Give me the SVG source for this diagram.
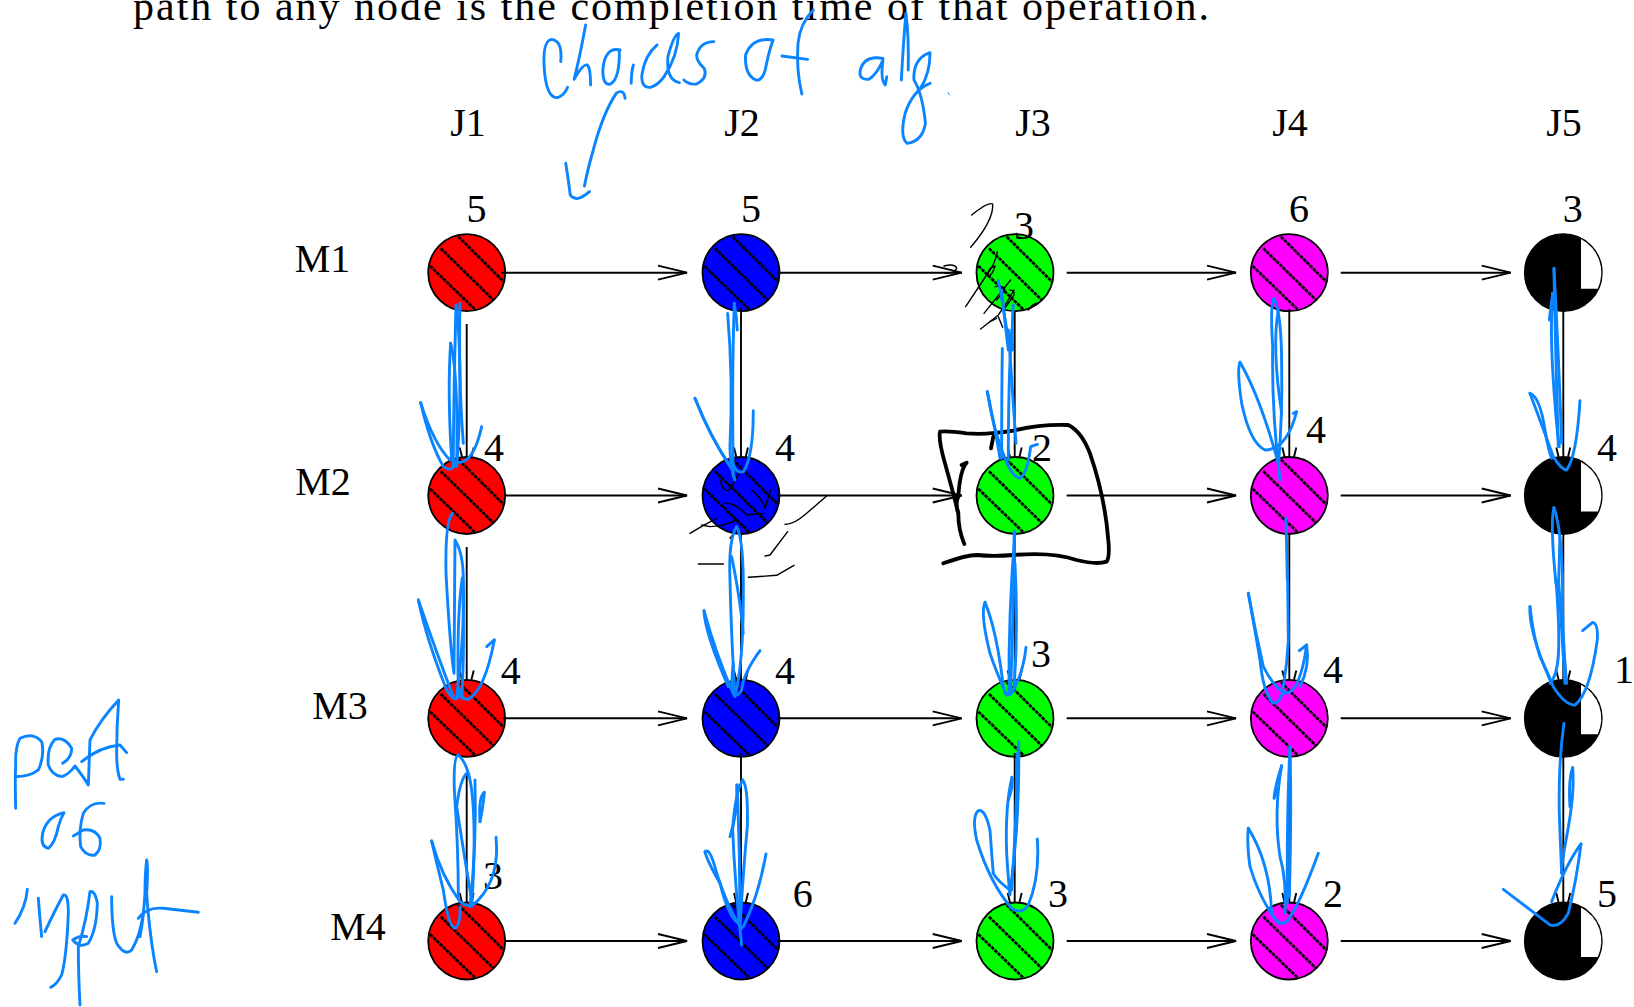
<svg xmlns="http://www.w3.org/2000/svg" width="1634" height="1007" viewBox="0 0 1634 1007">
<style>
text{font-family:"Liberation Serif","Times New Roman",serif;font-size:40px;fill:#000;text-anchor:middle}
.c{stroke:#000;stroke-width:1.8}
.h{stroke:#000;stroke-width:2.7;stroke-dasharray:3.6 .9;fill:none}
.a{stroke:#000;stroke-width:1.9;fill:none;marker-end:url(#head)}
.v{stroke:#000;stroke-width:1.9;fill:none;marker-end:url(#vhead)}
.ink path{fill:none;stroke-linecap:round;stroke-linejoin:round;vector-effect:non-scaling-stroke}
.blue path{stroke:#0a84ff;stroke-width:2.9}
.blk path{stroke:#000;stroke-width:1.4}
.thick path{stroke:#000;stroke-width:3.8}
</style>
<defs>
<marker id="head" markerUnits="userSpaceOnUse" markerWidth="40" markerHeight="20" refX="0" refY="0" viewBox="-32 -10 40 20" orient="auto" overflow="visible"><path d="M-29 -7L0 0L-29 7" fill="none" stroke="#000" stroke-width="1.9"/></marker>
<marker id="vhead" markerUnits="userSpaceOnUse" markerWidth="20" markerHeight="20" refX="0" refY="0" viewBox="-10 -10 20 20" orient="auto" overflow="visible"><path d="M-9.4 -7L0 -4.7M-9.4 7L0 4.7" fill="none" stroke="#000" stroke-width="1.9"/></marker>
<g id="hatch"><path class="h" d="M-8.3 -36L37.3 9.3M-26 -24.3L26.7 27.3M-36.700 -6.700L8.300 36.700"/></g>
<path id="win" d="M17.7 -33.6A38 38 0 0 1 34.5 16H17.7Z" fill="#fff"/>
</defs>
<rect width="1634" height="1007" fill="#fff"/>
<text id="caption" x="133" y="20" textLength="1076" lengthAdjust="spacing" style="text-anchor:start;font-size:42px">path to any node is the completion time of that operation.</text>
<g id="headers">
<text x="468" y="135.7">J1</text><text x="742" y="135.7">J2</text><text x="1033" y="135.7">J3</text><text x="1290" y="135.7">J4</text><text x="1564" y="135.7">J5</text>
<text x="322.500" y="272">M1</text><text x="323" y="495">M2</text><text x="340" y="719">M3</text><text x="358" y="940">M4</text>
</g>
<g id="nodes">
<g id="j1m1"><circle class="c" cx="466.700" cy="272.700" r="38.500" fill="#f00"/><use href="#hatch" x="466.700" y="272.700"/><text x="476.500" y="221.700">5</text></g>
<g id="j2m1"><circle class="c" cx="741" cy="272.700" r="38.500" fill="#00f"/><use href="#hatch" x="741" y="272.700"/><text x="751" y="221.700">5</text></g>
<g id="j3m1"><circle class="c" cx="1015" cy="272.700" r="38.500" fill="#0f0"/><use href="#hatch" x="1015" y="272.700"/><text x="1024" y="239">3</text></g>
<g id="j4m1"><circle class="c" cx="1289.300" cy="272.700" r="38.500" fill="#f0f"/><use href="#hatch" x="1289.300" y="272.700"/><text x="1299" y="221.700">6</text></g>
<g id="j5m1"><circle class="c" cx="1563.300" cy="272.700" r="38.500" fill="#000"/><use href="#win" x="1563.300" y="272.700"/><text x="1572.700" y="221.700">3</text></g>
<g id="j1m2"><circle class="c" cx="466.700" cy="495.500" r="38.500" fill="#f00"/><use href="#hatch" x="466.700" y="495.500"/><text x="494" y="461">4</text></g>
<g id="j2m2"><circle class="c" cx="741" cy="495.500" r="38.500" fill="#00f"/><use href="#hatch" x="741" y="495.500"/><text x="785" y="461">4</text></g>
<g id="j3m2"><circle class="c" cx="1015" cy="495.500" r="38.500" fill="#0f0"/><use href="#hatch" x="1015" y="495.500"/><text x="1042" y="461">2</text></g>
<g id="j4m2"><circle class="c" cx="1289.300" cy="495.500" r="38.500" fill="#f0f"/><use href="#hatch" x="1289.300" y="495.500"/><text x="1316" y="443.300">4</text></g>
<g id="j5m2"><circle class="c" cx="1563.300" cy="495.500" r="38.500" fill="#000"/><use href="#win" x="1563.300" y="495.500"/><text x="1607" y="461">4</text></g>
<g id="j1m3"><circle class="c" cx="466.700" cy="718.300" r="38.500" fill="#f00"/><use href="#hatch" x="466.700" y="718.300"/><text x="510.700" y="684">4</text></g>
<g id="j2m3"><circle class="c" cx="741" cy="718.300" r="38.500" fill="#00f"/><use href="#hatch" x="741" y="718.300"/><text x="785" y="684">4</text></g>
<g id="j3m3"><circle class="c" cx="1015" cy="718.300" r="38.500" fill="#0f0"/><use href="#hatch" x="1015" y="718.300"/><text x="1041" y="667">3</text></g>
<g id="j4m3"><circle class="c" cx="1289.300" cy="718.300" r="38.500" fill="#f0f"/><use href="#hatch" x="1289.300" y="718.300"/><text x="1333" y="683">4</text></g>
<g id="j5m3"><circle class="c" cx="1563.300" cy="718.300" r="38.500" fill="#000"/><use href="#win" x="1563.300" y="718.300"/><text x="1624" y="683">1</text></g>
<g id="j1m4"><circle class="c" cx="466.700" cy="941" r="38.500" fill="#f00"/><use href="#hatch" x="466.700" y="941"/><text x="493" y="889">3</text></g>
<g id="j2m4"><circle class="c" cx="741" cy="941" r="38.500" fill="#00f"/><use href="#hatch" x="741" y="941"/><text x="802.700" y="906.700">6</text></g>
<g id="j3m4"><circle class="c" cx="1015" cy="941" r="38.500" fill="#0f0"/><use href="#hatch" x="1015" y="941"/><text x="1058" y="906.700">3</text></g>
<g id="j4m4"><circle class="c" cx="1289.300" cy="941" r="38.500" fill="#f0f"/><use href="#hatch" x="1289.300" y="941"/><text x="1333" y="906.700">2</text></g>
<g id="j5m4"><circle class="c" cx="1563.300" cy="941" r="38.500" fill="#000"/><use href="#win" x="1563.300" y="941"/><text x="1607" y="906.700">5</text></g>
</g>
<g id="connectors">
<path class="a" d="M501 272.700H687"/><path class="a" d="M777 272.700H961.700"/><path class="a" d="M1066.700 272.700H1236"/><path class="a" d="M1340.700 272.700H1510.700"/>
<path class="a" d="M505 495.500H687"/><path class="a" d="M777 495.500H961.700"/><path class="a" d="M1066.700 495.500H1236"/><path class="a" d="M1340.700 495.500H1510.700"/>
<path class="a" d="M503 718.300H687"/><path class="a" d="M777 718.300H961.700"/><path class="a" d="M1066.700 718.300H1236"/><path class="a" d="M1340.700 718.300H1510.700"/>
<path class="a" d="M505 941H687"/><path class="a" d="M777 941H961.700"/><path class="a" d="M1066.700 941H1236"/><path class="a" d="M1340.700 941H1510.700"/>
<path class="v" d="M466.700 324V457"/><path class="v" d="M741 308V457"/><path class="v" d="M1014.700 312V457"/><path class="v" d="M1289.300 309V457"/><path class="v" d="M1563.300 311V457"/>
<path class="v" d="M466.700 547V679.800"/><path class="v" d="M741 532V679.800"/><path class="v" d="M1014.700 533V679.800"/><path class="v" d="M1289.300 533V679.800"/><path class="v" d="M1563.300 533V679.800"/>
<path class="v" d="M466.700 773V902.500"/><path class="v" d="M741 753V902.500"/><path class="v" d="M1014.700 753V902.500"/><path class="v" d="M1289.300 756V902.500"/><path class="v" d="M1563.300 756V902.500"/>
</g>
<g id="ink-black" class="ink">
<g class="blk" transform="translate(940,190) scale(.3333)">
<path d="M95 75Q145 35 158 42Q162 90 92 172"/><path d="M172 185Q165 220 150 240L77 350"/><path d="M165 228Q140 235 145 260Q160 250 165 228"/><path d="M212 270L132 370"/><path d="M165 290Q190 285 195 300L170 330"/><path d="M222 300Q200 340 175 375L122 417"/><path d="M175 380L188 412"/><path d="M150 395L170 385"/><path d="M210 300Q225 300 222 315Q205 340 190 360"/><path d="M265 360Q280 340 290 340"/><path d="M12 228Q45 220 50 235Q45 250 15 250"/>
</g>
<g class="blk" transform="translate(660,400) scale(.3333)">
<path d="M180 240Q195 290 215 260L240 215"/><path d="M275 270Q310 300 315 325L332 270"/><path d="M195 310Q230 310 260 345L310 340"/><path d="M90 400Q130 375 170 355"/><path d="M125 375L150 380Q190 380 230 360"/><path d="M210 415L235 385"/><path d="M375 373Q400 375 440 340L500 288"/><path d="M315 468L330 465L383 395"/><path d="M115 492L190 492"/><path d="M265 532L350 526L402 496"/>
</g>
<g class="thick" transform="translate(660,400) scale(.3333)">
<path d="M850 490Q920 465 950 465Q1000 470 1060 465Q1180 455 1250 480Q1310 495 1340 485Q1350 470 1345 420Q1335 290 1290 160Q1265 95 1225 75Q1140 72 1060 92Q980 105 920 100Q860 92 840 95Q835 120 855 190Q880 280 895 340Q895 390 913 432"/><path d="M905 195L920 188Q900 210 895 290Q885 310 895 340"/><path d="M1000 110L993 145"/>
</g>
</g>
<g id="ink-blue" class="ink blue">
<g transform="translate(400,0) scale(.3827,.3333)">
<path d="M420 185Q425 120 395 118Q370 125 378 220Q385 295 412 293Q430 285 438 262"/><path d="M485 75Q470 170 455 238Q478 190 490 195Q498 205 498 255"/><path d="M575 150Q535 140 530 210Q530 258 550 252Q575 235 573 150"/><path d="M604 250Q605 210 610 195"/><path d="M672 135Q640 165 632 225Q630 265 655 262Q675 255 690 230Q725 170 728 100Q715 105 700 170Q695 240 730 248"/><path d="M820 125Q785 125 775 165Q775 185 795 205Q805 235 775 252Q755 255 742 240"/><path d="M975 120Q920 110 903 165Q900 225 930 240Q950 245 958 190Q965 150 975 120"/><path d="M1080 30Q1045 70 1040 130Q1035 210 1050 282"/><path d="M998 168L1065 178"/><path d="M1262 175Q1210 165 1202 215Q1200 240 1225 238Q1245 225 1262 180Q1255 240 1268 255L1272 230"/><path d="M1322 40Q1315 130 1310 240"/><path d="M1322 40Q1330 110 1328 210"/><path d="M1385 250Q1340 270 1320 340Q1305 410 1325 430Q1365 425 1373 370Q1365 280 1343 240Q1340 175 1385 158Q1385 220 1360 265"/><path d="M1432 278L1436 285" style="stroke-width:1"/><path d="M588 295Q585 265 565 280Q530 340 505 450Q490 510 482 558"/><path d="M433 490Q440 540 445 585Q460 610 495 575"/>
</g>
<g transform="translate(0,680) scale(.3333)">
<path d="M47 385Q45 300 47 260Q45 200 60 175Q100 155 125 185Q135 225 115 270Q90 290 50 290"/><path d="M188 250Q215 235 215 205Q195 170 165 178Q140 205 145 255Q155 285 185 290Q205 285 225 258Q250 290 265 315Q268 240 270 180Q300 120 356 60Q350 140 350 220Q350 270 360 298L370 298"/><path d="M245 245Q300 200 360 195L380 218"/><path d="M192 398Q140 410 128 460Q120 500 145 505Q165 490 175 440Q180 420 192 398"/><path d="M312 370Q270 365 250 400Q235 450 242 500Q258 530 285 525Q305 510 300 475Q285 445 250 450L220 468"/><path d="M82 628Q78 680 45 730"/><path d="M115 655Q120 720 125 770"/><path d="M135 755Q165 690 190 645Q205 640 205 700Q200 830 185 885Q170 915 152 922"/><path d="M240 975Q235 880 235 800Q260 720 270 635Q285 630 292 670Q290 750 265 790Q240 805 218 780Q240 765 260 770"/><path d="M335 650Q335 750 350 790Q375 830 395 810Q420 770 430 700"/><path d="M470 875Q450 780 440 640Q445 560 440 540Q435 580 435 640Q430 720 420 770"/><path d="M415 715Q440 680 490 685L595 697"/>
</g>
<g transform="translate(400,280) scale(.3333)">
<path d="M168 75Q160 400 160 560"/><path d="M180 70Q175 300 190 490"/><path d="M170 80Q190 300 170 560"/><path d="M152 190Q142 330 155 540"/><path d="M152 190Q175 280 170 560"/><path d="M62 368Q90 490 130 560Q160 580 165 545"/><path d="M62 368Q100 490 150 540"/><path d="M245 440Q225 530 190 545Q170 550 165 545"/>
<path d="M1003 70Q1010 110 1012 150"/><path d="M1003 70Q995 300 1000 590"/><path d="M983 100Q1000 300 990 500Q990 560 1005 600"/><path d="M885 355Q930 470 1000 575"/><path d="M885 355Q930 470 985 550"/><path d="M1060 392Q1060 530 1030 575Q1010 580 1000 555"/>
<path d="M158 700Q135 720 138 880Q150 1100 162 1180L165 780Q190 820 190 900Q195 1050 170 1250"/><path d="M187 895Q170 1000 175 1250"/><path d="M187 895Q195 1100 185 1255"/><path d="M55 960Q80 1080 140 1230Q165 1270 175 1250"/><path d="M55 960Q110 1120 160 1250"/><path d="M283 1080Q255 1230 205 1258Q185 1260 180 1230"/><path d="M260 1100L283 1080"/>
<path d="M1010 740Q985 780 990 900Q995 1100 1005 1240"/><path d="M1010 740Q1032 780 1030 950Q1030 1150 1005 1250Q990 1230 1000 1150"/><path d="M995 830Q1020 950 1030 1060"/><path d="M912 992Q950 1130 1000 1240"/><path d="M912 992Q915 1060 985 1220"/><path d="M1080 1112Q1030 1180 1025 1230Q1010 1260 995 1230"/>
</g>
<g transform="translate(420,730) scale(.3333)">
<path d="M115 75Q100 80 103 180Q115 350 115 500"/><path d="M115 75Q145 100 155 180Q170 300 155 530"/><path d="M140 130Q120 150 110 230Q130 360 155 510"/><path d="M165 150Q170 350 150 530"/><path d="M193 187Q175 200 180 275"/><path d="M193 187Q190 225 180 275"/><path d="M35 333Q50 400 70 480Q85 590 105 595Q122 585 120 530"/><path d="M35 333Q65 440 120 515Q150 540 175 510Q240 440 228 322"/>
</g>
<g transform="translate(940,190) scale(.3333)">
<path d="M175 272Q190 350 210 480"/><path d="M220 345Q215 400 218 480"/><path d="M185 300Q195 400 205 480"/>
</g>
<g transform="translate(940,330) scale(.3333)">
<path d="M205 0Q215 150 228 340"/><path d="M215 0Q205 150 205 390"/><path d="M187 55Q185 200 185 385"/><path d="M142 185Q170 320 180 385"/><path d="M142 185Q160 300 195 385Q215 440 240 445Q262 430 272 350L292 343"/>
</g>
<g transform="translate(940,530) scale(.3333)">
<path d="M222 5Q225 100 212 480"/><path d="M225 5Q205 250 207 490"/><path d="M225 100Q235 300 222 480"/><path d="M135 217Q120 250 150 370Q170 430 200 495"/><path d="M135 217Q170 300 190 470"/><path d="M258 352Q250 430 215 490Q205 500 195 490"/>
</g>
<g transform="translate(660,720) scale(.3333)">
<path d="M1076 65Q1080 300 1050 520"/><path d="M1056 172Q1035 260 1040 400Q1045 480 1050 525"/><path d="M1056 172Q1060 200 1045 240"/><path d="M1072 100Q1070 300 1055 510"/><path d="M1050 510Q1010 480 1000 460Q995 400 990 330Q975 265 955 272Q935 290 950 360Q990 490 1055 565Q1085 585 1105 555Q1140 470 1132 357"/>
<path d="M248 180Q265 200 262 320Q250 450 240 620"/><path d="M248 180Q225 220 218 330Q225 500 245 675"/><path d="M230 195Q235 270 210 350"/><path d="M135 395Q150 380 170 460Q210 580 245 625"/><path d="M135 395Q140 420 180 490Q205 590 235 610"/><path d="M318 402Q295 530 250 620"/><path d="M232 195Q240 400 240 600"/>
</g>
<g transform="translate(1200,180) scale(.3333)">
<path d="M222 355Q210 370 218 500Q215 700 240 900"/><path d="M222 355Q245 400 245 560Q248 700 235 860"/><path d="M235 390Q215 500 245 700"/><path d="M120 547Q110 570 125 670Q150 790 195 810Q260 810 290 695L280 700"/><path d="M120 547Q180 650 235 850"/><path d="M258 1015L262 1200"/>
<path d="M1062 265Q1075 500 1085 790"/><path d="M1062 265Q1065 450 1075 800"/><path d="M1058 340Q1050 450 1060 600Q1070 750 1078 800"/><path d="M1058 340L1048 420"/><path d="M990 640Q1020 650 1035 750Q1045 810 1055 835"/><path d="M990 640Q1020 720 1060 830Q1085 870 1100 870Q1130 830 1140 662"/><path d="M1062 983Q1050 1030 1068 1210"/><path d="M1062 983Q1085 1050 1088 1210"/><path d="M1080 1070L1076 1210"/>
</g>
<g transform="translate(1200,580) scale(.3333)">
<path d="M263 0L265 180Q262 250 250 320"/><path d="M145 40Q170 180 180 240Q190 340 220 370Q240 370 250 330"/><path d="M145 40Q165 150 190 260Q220 320 255 340Q300 340 320 195L298 212"/><path d="M320 195Q330 260 300 320"/>
<path d="M270 500Q275 700 268 950"/><path d="M270 500Q260 700 262 970"/><path d="M245 557Q225 620 222 655L235 625"/><path d="M245 557Q220 700 240 830Q260 900 255 1000"/><path d="M145 745Q140 790 150 860Q180 960 235 1030"/><path d="M145 745Q210 850 215 1000"/><path d="M355 820Q300 970 265 1020Q245 1040 230 1020"/>
<path d="M1076 0Q1085 150 1095 310"/><path d="M1068 0Q1080 150 1075 230Q1070 290 1050 310"/><path d="M1088 0Q1085 150 1100 310"/><path d="M990 80Q1000 170 1020 230Q1040 270 1060 320Q1095 375 1125 375Q1170 340 1192 180Q1195 130 1178 127L1148 152"/><path d="M990 80Q985 150 1050 300"/>
<path d="M1092 430Q1075 550 1078 700L1085 880"/><path d="M1118 563Q1125 640 1100 770Q1085 850 1085 880"/><path d="M1118 563Q1105 600 1110 680"/><path d="M1143 792Q1100 850 1055 965"/><path d="M1143 792Q1130 900 1105 1000Q1080 1045 1050 1035L910 928"/>
</g>
</g>
</svg>
